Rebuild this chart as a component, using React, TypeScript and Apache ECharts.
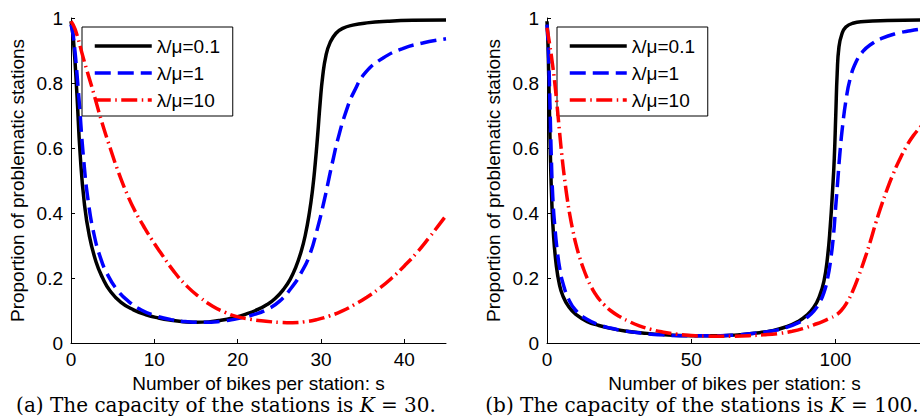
import React, { useEffect, useRef } from "react";
import * as echarts from "echarts";

// ---------- Data: (a) K = 30 ----------
const sA_r01 = [0, 0.3, 0.7, 1.1, 1.6, 2.2, 3.0, 3.8, 4.7, 6.0, 7.5, 9.0, 10.5, 12.0, 13.5, 15.0, 16.5, 18.0, 19.5, 21.0, 22.5, 23.5, 24.5, 25.5, 26.3, 27.0, 27.6, 28.1, 28.6, 29.0, 29.3, 29.6, 29.9, 30.2, 30.6, 31.1, 31.8, 32.6, 33.8, 35.5, 38.0, 41.0, 45.0];
const vA_r01 = [0.99, 0.93, 0.77, 0.58, 0.43, 0.33, 0.25, 0.2, 0.16, 0.125, 0.102, 0.087, 0.077, 0.07, 0.0655, 0.0635, 0.065, 0.07, 0.078, 0.089, 0.104, 0.118, 0.137, 0.165, 0.196, 0.235, 0.28, 0.33, 0.4, 0.475, 0.55, 0.64, 0.74, 0.82, 0.885, 0.925, 0.953, 0.968, 0.978, 0.985, 0.99, 0.993, 0.994];

const sA_r1 = [0, 0.3, 0.9, 1.5, 2.1, 2.8, 3.5, 4.3, 5.5, 7.0, 8.5, 10.0, 12.0, 14.0, 16.0, 18.0, 20.0, 22.0, 23.5, 25.0, 26.6, 27.6, 28.6, 29.6, 30.4, 31.0, 31.5, 32.0, 33.0, 34.0, 35.4, 37.4, 39.8, 42.2, 45.0];
const vA_r1 = [0.98, 0.94, 0.77, 0.57, 0.43, 0.33, 0.265, 0.215, 0.165, 0.126, 0.101, 0.085, 0.072, 0.0655, 0.0635, 0.067, 0.075, 0.088, 0.103, 0.128, 0.175, 0.215, 0.268, 0.355, 0.44, 0.512, 0.57, 0.625, 0.712, 0.775, 0.834, 0.876, 0.906, 0.923, 0.936];

const sA_r10 = [0, 0.5, 1.5, 2.7, 3.7, 4.7, 5.7, 6.7, 7.7, 8.7, 9.7, 10.7, 12.3, 13.9, 15.5, 17.0, 18.5, 19.8, 21.5, 23.4, 25.0, 26.6, 28.0, 29.5, 31.0, 32.5, 34.0, 35.5, 37.0, 38.5, 40.0, 41.5, 43.0, 44.5, 45.0];
const vA_r10 = [0.99, 0.965, 0.875, 0.77, 0.68, 0.6, 0.525, 0.46, 0.405, 0.36, 0.318, 0.28, 0.222, 0.175, 0.14, 0.113, 0.094, 0.082, 0.073, 0.067, 0.0635, 0.0625, 0.065, 0.072, 0.083, 0.098, 0.118, 0.141, 0.168, 0.2, 0.237, 0.278, 0.325, 0.375, 0.392];

// ---------- Data: (b) K = 100 ----------
const sB_r01 = [0, 0.3, 0.6, 0.9, 1.2, 1.6, 2.2, 3.2, 4.3, 5.5, 7.5, 10, 14, 18, 22, 27, 33, 40, 50, 58, 66, 72, 78, 83, 87, 90, 92.5, 94.5, 96, 97.2, 98.2, 99.0, 99.6, 100.1, 100.6, 101.2, 102.2, 103.6, 106, 110, 118, 130];
const vB_r01 = [0.99, 0.93, 0.82, 0.69, 0.57, 0.45, 0.34, 0.24, 0.18, 0.145, 0.112, 0.088, 0.066, 0.054, 0.045, 0.037, 0.031, 0.026, 0.0225, 0.022, 0.025, 0.03, 0.038, 0.05, 0.066, 0.085, 0.11, 0.145, 0.19, 0.26, 0.36, 0.47, 0.57, 0.7, 0.83, 0.91, 0.95, 0.972, 0.984, 0.989, 0.992, 0.994];

const sB_r1 = [0, 0.5, 1.0, 1.5, 2.0, 2.7, 3.6, 4.5, 5.5, 7.5, 10, 14, 18, 22, 27, 33, 40, 50, 60, 66, 72, 78, 83, 87, 90, 92.5, 94.5, 96, 97.3, 98.4, 99.3, 100.0, 100.8, 101.5, 102.5, 103.7, 105, 107, 109.5, 112.5, 116, 121, 126, 130];
const vB_r1 = [0.98, 0.9, 0.74, 0.57, 0.45, 0.36, 0.28, 0.225, 0.185, 0.135, 0.1, 0.072, 0.056, 0.046, 0.037, 0.03, 0.025, 0.022, 0.022, 0.025, 0.03, 0.037, 0.048, 0.062, 0.078, 0.098, 0.125, 0.155, 0.2, 0.26, 0.33, 0.41, 0.5, 0.58, 0.67, 0.75, 0.81, 0.862, 0.897, 0.92, 0.937, 0.952, 0.961, 0.966];

const sB_r10 = [0, 0.9, 1.8, 2.7, 3.5, 4.4, 5.3, 6.1, 7.0, 8.0, 9.0, 10.0, 11.2, 12.5, 14, 15.5, 17, 18.5, 20, 22, 25, 28, 32, 36, 40, 45, 50, 55, 60, 65, 70, 75, 80, 85, 89, 92.5, 95.5, 98, 100, 102, 104, 106, 108, 110, 112, 114, 116, 118, 120, 122, 124.5, 127, 130];
const vB_r10 = [0.97, 0.92, 0.865, 0.8, 0.73, 0.645, 0.565, 0.505, 0.445, 0.39, 0.345, 0.305, 0.267, 0.232, 0.198, 0.17, 0.148, 0.13, 0.116, 0.1, 0.082, 0.068, 0.053, 0.042, 0.034, 0.027, 0.023, 0.021, 0.0205, 0.021, 0.0225, 0.025, 0.029, 0.036, 0.045, 0.056, 0.066, 0.076, 0.085, 0.1, 0.125, 0.16, 0.205, 0.255, 0.31, 0.37, 0.425, 0.475, 0.52, 0.56, 0.603, 0.638, 0.67];

const seriesNames = ["λ/μ=0.1", "λ/μ=1", "λ/μ=10"];
const yTicks = [0, 0.2, 0.4, 0.6, 0.8, 1];
const xTitle = "Number of bikes per station: s";
const yTitle = "Proportion of problematic stations";
const captionA = "(a) The capacity of the stations is ";
const captionB = "(b) The capacity of the stations is ";
const kA = "30.";
const kB = "100.";

const zip = (xs: number[], ys: number[]) => xs.map((x, i) => [x, ys[i]]);

const SANS = "'Liberation Sans', Arial, Helvetica, sans-serif";
const SERIF = "'DejaVu Serif', serif";

const styles = [
  { color: "#000000", width: 3.5, type: "solid" as any },
  { color: "#0000ff", width: 3.5, type: [16, 7] as any },
  { color: "#ff0000", width: 3.5, type: [16, 4.5, 1.5, 4.5] as any },
];

export default function App() {
  const ref = useRef<HTMLDivElement>(null);
  useEffect(() => {
    if (!ref.current) return;
    const chart = echarts.init(ref.current, undefined, { renderer: "svg" });

    const mkX = (idx: number, max: number, interval: number) => ({
      type: "value",
      gridIndex: idx,
      min: 0,
      max,
      interval,
      name: xTitle,
      nameLocation: "middle",
      nameGap: 28,
      nameTextStyle: { fontSize: 19, fontFamily: SANS, color: "#000", lineHeight: 19 },
      axisLine: { show: true, onZero: false, lineStyle: { color: "#000", width: 1 } },
      axisTick: { show: true, inside: true, length: 4, lineStyle: { color: "#000" } },
      axisLabel: { fontSize: 19, fontFamily: SANS, color: "#000", margin: 7, showMaxLabel: max % interval === 0 },
      splitLine: { show: false },
    });
    const mkY = (idx: number) => ({
      type: "value",
      gridIndex: idx,
      min: yTicks[0],
      max: yTicks[yTicks.length - 1],
      interval: 0.2,
      name: yTitle,
      nameLocation: "middle",
      nameGap: 44,
      nameTextStyle: { fontSize: 19, fontFamily: SANS, color: "#000" },
      axisLine: { show: true, lineStyle: { color: "#000", width: 1 } },
      axisTick: { show: true, inside: true, length: 4, lineStyle: { color: "#000" } },
      axisLabel: { fontSize: 19, fontFamily: SANS, color: "#000", margin: 8 },
      splitLine: { show: false },
    });

    const dataA = [zip(sA_r01, vA_r01), zip(sA_r1, vA_r1), zip(sA_r10, vA_r10)];
    const dataB = [zip(sB_r01, vB_r01), zip(sB_r1, vB_r1), zip(sB_r10, vB_r10)];

    const series: any[] = [];
    [dataA, dataB].forEach((set, gi) => {
      set.forEach((d, i) => {
        series.push({
          type: "line",
          name: seriesNames[i],
          xAxisIndex: gi,
          yAxisIndex: gi,
          data: d,
          showSymbol: false,
          symbol: "none",
          smooth: 0.5,
          lineStyle: { color: styles[i].color, width: styles[i].width, type: styles[i].type },
          itemStyle: { color: styles[i].color },
          z: 2 + i,
        });
      });
    });

    const mkLegend = (left: number) => ({
      show: true,
      orient: "vertical",
      left,
      top: 27,
      data: seriesNames,
      itemWidth: 57,
      itemHeight: 20,
      itemGap: 7,
      padding: [9, 10, 6, 11],
      borderColor: "#000",
      borderWidth: 1,
      backgroundColor: "#fff",
      selectedMode: false,
      textStyle: { fontSize: 19, fontFamily: SANS, color: "#000", lineHeight: 20, width: 66 },
      itemStyle: { opacity: 0, borderWidth: 0 },
      lineStyle: { width: 3.5 },
    });

    const caption = (cx: number, lead: string, tail: string) => ({
      type: "text",
      x: cx,
      y: 415,
      style: {
        text: lead + "{k|K} = " + tail,
        fontSize: 20,
        lineHeight: 20,
        fontFamily: SERIF,
        fill: "#000",
        align: "center",
        verticalAlign: "bottom",
        rich: {
          k: { fontSize: 20, lineHeight: 20, fontFamily: SERIF, fontStyle: "italic", fill: "#000" },
        },
      },
    });

    chart.setOption({
      animation: false,
      backgroundColor: "#ffffff",
      grid: [
        { left: 71, top: 18, width: 375, height: 325, containLabel: false },
        { left: 547, top: 18, width: 375, height: 325, containLabel: false },
      ],
      xAxis: [mkX(0, 45, 10), mkX(1, 130, 50)],
      yAxis: [mkY(0), mkY(1)],
      legend: [mkLegend(82), mkLegend(557)],
      series,
      graphic: [caption(226, captionA, kA), caption(702, captionB, kB)],
    });
    return () => chart.dispose();
  }, []);

  return (
    <div style={{ position: "absolute", left: 0, top: 0, width: 920, height: 419, overflow: "hidden", background: "#fff" }}>
      <div ref={ref} style={{ width: 940, height: 419 }} />
    </div>
  );
}
